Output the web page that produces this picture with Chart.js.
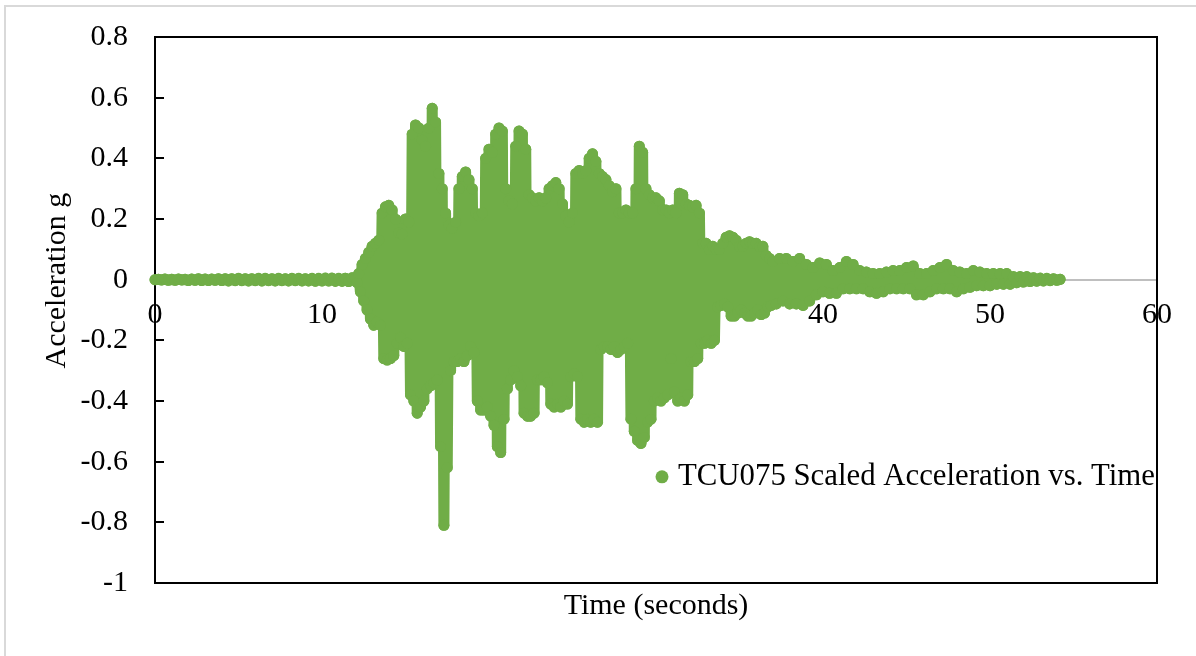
<!DOCTYPE html>
<html>
<head>
<meta charset="utf-8">
<title>TCU075 Scaled Acceleration vs. Time</title>
<script src="https://cdn.jsdelivr.net/npm/chart.js@4.4.1/dist/chart.umd.min.js"></script>
<style>
  html, body { margin: 0; padding: 0; background: #ffffff; }
  #wrap { position: relative; width: 1196px; height: 656px; }
  canvas { display: block; }
</style>
</head>
<body>
<div id="wrap"><canvas id="chart" width="1196" height="656"></canvas></div>
<script>
// TCU075 record, scaled acceleration in g, stored as three evenly sampled segments
const seriesLabel = 'TCU075 Scaled Acceleration vs. Time';

// pre-event quiet segment: 0.0 – 11.8 s every 0.2 s
const quietStart = 0;
const quietStep = 0.2;
const quietAccel = [
  0, 0.001, -0.001, 0.002, -0.002, 0.001, -0.002, 0.002, -0.001, 0.001,
  -0.003, 0.002, -0.002, 0.003, -0.003, 0.002, -0.003, 0.002, -0.002, 0.003,
  -0.003, 0.003, -0.004, 0.003, -0.003, 0.004, -0.003, 0.003, -0.004, 0.003,
  -0.003, 0.004, -0.004, 0.004, -0.003, 0.003, -0.004, 0.004, -0.003, 0.003,
  -0.004, 0.004, -0.003, 0.004, -0.004, 0.003, -0.004, 0.004, -0.005, 0.004,
  -0.004, 0.005, -0.004, 0.005, -0.005, 0.004, -0.005, 0.005, -0.006, 0.006
];

// strong shaking: 12.0 – 36.9 s every 0.1 s (one row per second)
const strongStart = 12;
const strongStep = 0.1;
const strongAccel = [
  0.005, -0.01, 0.02, -0.04, 0.05, -0.07, 0.07, -0.10, 0.09, -0.13,
  0.11, -0.15, 0.12, -0.14, 0.13, -0.15, 0.22, -0.26, 0.24, -0.265,
  0.245, -0.26, 0.23, -0.25, 0.20, -0.21, 0.155, -0.19, 0.15, -0.22,
  0.20, -0.21, 0.19, -0.38, 0.48, -0.40, 0.51, -0.44, 0.50, -0.42,
  0.46, -0.40, 0.44, -0.36, 0.50, -0.35, 0.565, -0.34, 0.52, -0.33,
  0.35, -0.55, 0.30, -0.81, 0.22, -0.62, 0.18, -0.30, 0.17, -0.27,
  0.19, -0.27, 0.30, -0.26, 0.34, -0.27, 0.355, -0.25, 0.33, -0.22,
  0.30, -0.24, 0.22, -0.40, 0.21, -0.43, 0.22, -0.43, 0.40, -0.42,
  0.43, -0.45, 0.42, -0.48, 0.48, -0.55, 0.50, -0.57, 0.49, -0.46,
  0.30, -0.36, 0.26, -0.33, 0.25, -0.30, 0.44, -0.32, 0.49, -0.35,
  0.48, -0.44, 0.43, -0.45, 0.28, -0.45, 0.27, -0.44, 0.26, -0.33,
  0.27, -0.33, 0.26, -0.32, 0.27, -0.34, 0.30, -0.41, 0.31, -0.42,
  0.32, -0.41, 0.30, -0.42, 0.25, -0.40, 0.21, -0.41, 0.19, -0.32,
  0.22, -0.31, 0.35, -0.32, 0.36, -0.46, 0.35, -0.47, 0.36, -0.46,
  0.40, -0.47, 0.415, -0.46, 0.39, -0.47, 0.35, -0.23, 0.34, -0.22,
  0.33, -0.22, 0.31, -0.23, 0.29, -0.22, 0.30, -0.24, 0.22, -0.23,
  0.22, -0.22, 0.23, -0.21, 0.22, -0.46, 0.22, -0.50, 0.30, -0.53,
  0.44, -0.54, 0.42, -0.52, 0.30, -0.47, 0.28, -0.46, 0.27, -0.40,
  0.27, -0.39, 0.26, -0.40, 0.23, -0.39, 0.23, -0.38, 0.22, -0.26,
  0.23, -0.37, 0.22, -0.40, 0.285, -0.39, 0.28, -0.40, 0.25, -0.38,
  0.245, -0.27, 0.24, -0.27, 0.245, -0.26, 0.22, -0.21, 0.12, -0.21,
  0.12, -0.20, 0.10, -0.21, 0.11, -0.20, 0.10, -0.09, 0.10, -0.085,
  0.12, -0.08, 0.14, -0.09, 0.145, -0.12, 0.14, -0.12, 0.13, -0.11,
  0.11, -0.10, 0.11, -0.11, 0.12, -0.12, 0.125, -0.12, 0.12, -0.11,
  0.12, -0.10, 0.11, -0.115, 0.11, -0.11, 0.08, -0.09, 0.07, -0.085
];

// coda: 37.0 – 54.2 s every 0.2 s
const codaStart = 37;
const codaStep = 0.2;
const codaAccel = [
  0.06, -0.08, 0.07, -0.07, 0.07,
  -0.08, 0.06, -0.08, 0.07, -0.085, 0.05, -0.07, 0.04, -0.05, 0.055,
  -0.04, 0.05, -0.045, 0.03, -0.045, 0.04, -0.03, 0.06, -0.03, 0.05,
  -0.03, 0.03, -0.03, 0.025, -0.04, 0.02, -0.045, 0.02, -0.04, 0.025,
  -0.03, 0.03, -0.03, 0.03, -0.03, 0.04, -0.03, 0.045, -0.05, 0.02,
  -0.05, 0.02, -0.04, 0.03, -0.03, 0.04, -0.03, 0.05, -0.03, 0.03,
  -0.04, 0.025, -0.03, 0.02, -0.025, 0.03, -0.02, 0.025, -0.02, 0.02,
  -0.02, 0.02, -0.015, 0.02, -0.015, 0.02, -0.015, 0.01, -0.01, 0.01,
  -0.008, 0.01, -0.006, 0.006, -0.005, 0.005, -0.004, 0.004, -0.003, 0.003,
  -0.002, 0.001
];

const xTickValues = [0, 10, 20, 30, 40, 50, 60];
const yTickValues = [-1, -0.8, -0.6, -0.4, -0.2, 0, 0.2, 0.4, 0.6, 0.8];

function toPoints(start, step, values) {
  return values.map((a, i) => ({ x: Math.round((start + i * step) * 100) / 100, y: a }));
}
const points = toPoints(quietStart, quietStep, quietAccel)
  .concat(toPoints(strongStart, strongStep, strongAccel))
  .concat(toPoints(codaStart, codaStep, codaAccel));

const GREEN = '#70AD47';
const TEXT = '#000000';
const FONT_FAMILY = "'Liberation Serif', 'Times New Roman', serif";
const FONT_SIZE = 30;
const LEGEND_SIZE = 30.8;
const font = { family: FONT_FAMILY, size: FONT_SIZE };

// page frame, plot frame, inward y tick marks, rotated y title and the in-plot legend
const decorations = {
  id: 'decorations',
  beforeDraw(chart) {
    const ctx = chart.ctx;
    ctx.save();
    ctx.fillStyle = '#ffffff';
    ctx.fillRect(0, 0, chart.width, chart.height);
    ctx.strokeStyle = '#d9d9d9';
    ctx.lineWidth = 2;
    ctx.beginPath();
    ctx.moveTo(5, chart.height);
    ctx.lineTo(5, 6);
    ctx.lineTo(chart.width, 6);
    ctx.stroke();
    ctx.restore();
  },
  beforeDatasetsDraw(chart) {
    const { ctx, chartArea } = chart;
    const y = chart.scales.y;
    ctx.save();
    ctx.strokeStyle = '#000000';
    ctx.lineWidth = 2;
    ctx.strokeRect(chartArea.left, chartArea.top, chartArea.right - chartArea.left, chartArea.bottom - chartArea.top);
    ctx.beginPath();
    yTickValues.forEach(v => {
      const py = Math.round(y.getPixelForValue(v));
      ctx.moveTo(chartArea.left, py);
      ctx.lineTo(chartArea.left + 9, py);
    });
    ctx.stroke();
    ctx.restore();
  },
  afterDraw(chart) {
    const { ctx, chartArea } = chart;
    const ds = chart.data.datasets[0];
    ctx.save();
    // y axis title
    ctx.font = `${FONT_SIZE}px ${FONT_FAMILY}`;
    ctx.fillStyle = TEXT;
    ctx.textAlign = 'center';
    ctx.textBaseline = 'middle';
    ctx.translate(57, chart.scales.y.getPixelForValue(0) + 1);
    ctx.rotate(-Math.PI / 2);
    ctx.fillText('Acceleration g', 0, 0);
    ctx.restore();

    // legend inside the plot, lower right
    ctx.save();
    const ly = chart.scales.y.getPixelForValue(-0.65);
    const lx = chartArea.right - 495;
    ctx.fillStyle = ds.backgroundColor;
    ctx.beginPath();
    ctx.arc(lx, ly, 6.5, 0, Math.PI * 2);
    ctx.fill();
    ctx.font = `${LEGEND_SIZE}px ${FONT_FAMILY}`;
    ctx.fillStyle = TEXT;
    ctx.textAlign = 'left';
    ctx.textBaseline = 'middle';
    ctx.fillText(ds.label, lx + 16, ly);
    ctx.restore();
  }
};

new Chart(document.getElementById('chart'), {
  type: 'scatter',
  data: {
    datasets: [{
      label: seriesLabel,
      data: points,
      showLine: true,
      borderColor: GREEN,
      backgroundColor: GREEN,
      borderWidth: 11,
      borderJoinStyle: 'round',
      borderCapStyle: 'round',
      pointRadius: 5.5,
      pointHoverRadius: 5.5,
      pointBorderWidth: 0,
      pointBackgroundColor: GREEN,
      tension: 0,
      clip: false
    }]
  },
  options: {
    responsive: false,
    animation: false,
    devicePixelRatio: 1,
    layout: { padding: { top: 37, right: 39, left: 0, bottom: 0 } },
    plugins: {
      legend: { display: false },
      tooltip: { enabled: false },
      title: { display: false }
    },
    scales: {
      x: {
        type: 'linear',
        position: 'bottom',
        min: 0,
        max: 60,
        ticks: { display: false },
        grid: { display: false, drawTicks: false },
        border: { display: false },
        title: {
          display: true,
          text: 'Time (seconds)',
          color: TEXT,
          font: font,
          padding: { top: 0, bottom: 32 }
        },
        afterFit(scale) { scale.height = 73; }
      },
      xZero: {
        type: 'linear',
        position: { y: 0 },
        min: 0,
        max: 60,
        afterBuildTicks(scale) { scale.ticks = xTickValues.map(v => ({ value: v })); },
        ticks: {
          color: TEXT,
          font: font,
          padding: 17,
          maxRotation: 0,
          callback: v => String(v)
        },
        grid: { display: false, drawTicks: false },
        border: { display: true, color: '#bfbfbf', width: 2 }
      },
      y: {
        type: 'linear',
        position: 'left',
        min: -1,
        max: 0.8,
        afterBuildTicks(scale) { scale.ticks = yTickValues.map(v => ({ value: v })); },
        ticks: {
          color: TEXT,
          font: font,
          padding: 27,
          callback: v => String(v)
        },
        grid: { display: false, drawTicks: false },
        border: { display: false },
        afterFit(scale) {
          scale.width = 155;
          scale.paddingTop = 10;
          scale.paddingBottom = 10;
        }
      }
    }
  },
  plugins: [decorations]
});
</script>
</body>
</html>
